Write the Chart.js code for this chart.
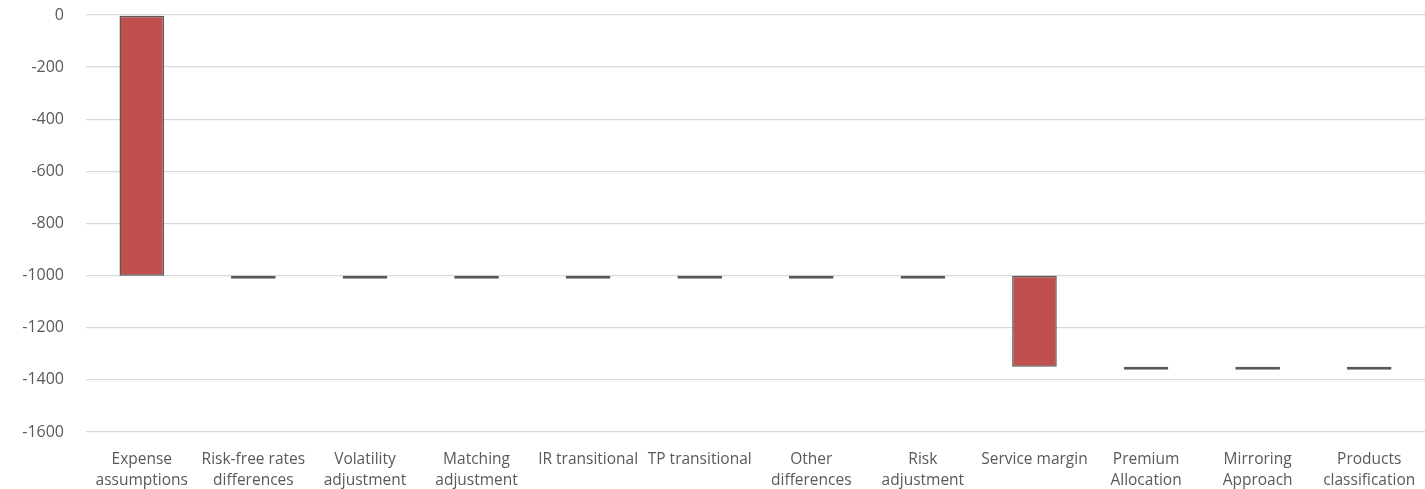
<!DOCTYPE html>
<html>
<head>
<meta charset="utf-8">
<script src="https://cdn.jsdelivr.net/npm/chart.js@4/dist/chart.umd.min.js"></script>
<style>
  html, body { margin: 0; padding: 0; background: #fff; }
  #wrap { position: relative; width: 1425px; height: 489px; }
</style>
</head>
<body>
<div id="wrap"><canvas id="chart-waterfall"></canvas></div>
<script>
  // Waterfall of impacts: each step moves the running total
  const categories = [
    ['Expense', 'assumptions'],
    ['Risk-free rates', 'differences'],
    ['Volatility', 'adjustment'],
    ['Matching', 'adjustment'],
    'IR transitional',
    'TP transitional',
    ['Other', 'differences'],
    ['Risk', 'adjustment'],
    'Service margin',
    ['Premium', 'Allocation'],
    ['Mirroring', 'Approach'],
    ['Products', 'classification']
  ];
  const deltas = [-1000, 0, 0, 0, 0, 0, 0, 0, -350, 0, 0, 0];
  const yTicks = { min: -1600, max: 0, step: 200 };

  (function() {
    'use strict';

    const barFill = '#C0504D';
    const barEdge = '#595959';
    const textGrey = '#595959';

    // floating [start, end] pairs built from the running total
    let running = 0;
    const ranges = deltas.map(d => {
      const start = running;
      running += d;
      return [start, running];
    });

    new Chart(document.getElementById('chart-waterfall'), {
      type: 'bar',
      data: {
        labels: categories,
        datasets: [{
          data: ranges,
          backgroundColor: deltas.map(d => d === 0 ? barEdge : barFill),
          borderColor: barEdge,
          borderWidth: 1.5,
          borderSkipped: false,
          minBarLength: 3,
          barPercentage: 0.4,
          categoryPercentage: 1
        }]
      },
      options: {
        responsive: true,
        maintainAspectRatio: false,
        animation: false,
        layout: { padding: { top: 15, right: 0, left: 0, bottom: 0 } },
        plugins: { legend: { display: false }, tooltip: { enabled: false } },
        scales: {
          x: {
            grid: { display: false, drawTicks: false },
            border: { display: false },
            ticks: {
              color: textGrey,
              font: { family: 'Open Sans', size: 15.5, lineHeight: 1.3 },
              maxRotation: 0,
              autoSkip: false,
              padding: 18
            },
            afterFit(scale) {
              scale.height = 57;
              scale.paddingLeft = 0;
              scale.paddingRight = 0;
            }
          },
          y: {
            min: yTicks.min,
            max: yTicks.max,
            grid: { color: '#d9d9d9', lineWidth: 1.3, drawTicks: false },
            border: { display: false },
            ticks: {
              stepSize: yTicks.step,
              color: textGrey,
              font: { family: 'Open Sans', size: 16 },
              padding: 22,
              callback: v => String(v)
            },
            afterFit(scale) {
              scale.width = 86;
              scale.paddingTop = 0;
              scale.paddingBottom = 0;
            }
          }
        }
      }
    });
  })();
</script>
</body>
</html>
